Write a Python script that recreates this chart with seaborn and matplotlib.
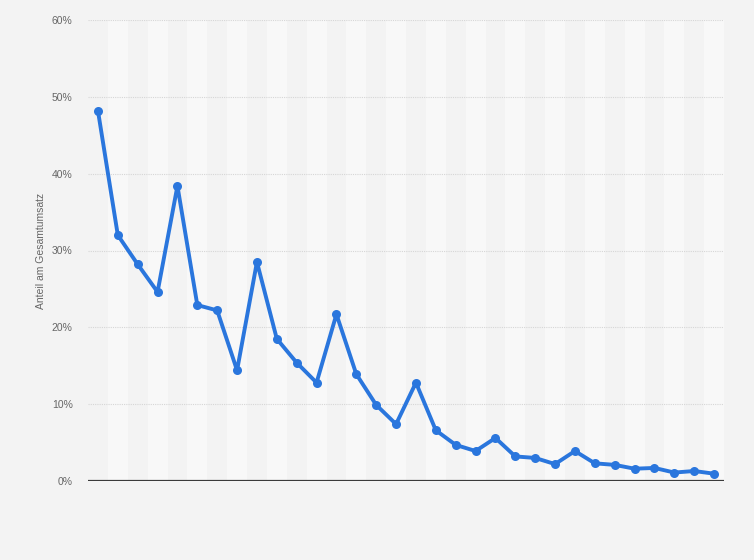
import pandas as pd
import seaborn as sns
import matplotlib.pyplot as plt
import numpy as np

# Anteil am Gesamtumsatz (%), left to right
positions = list(range(1, 33))
share = [48.2, 32.0, 28.2, 24.6, 38.4, 22.9, 22.2, 14.4, 28.5, 18.5,
         15.4, 12.8, 21.7, 13.9, 9.9, 7.4, 12.8, 6.6, 4.7, 3.9,
         5.6, 3.2, 3.0, 2.2, 3.9, 2.3, 2.1, 1.6, 1.7, 1.1,
         1.3, 0.95]
yticks = [0, 10, 20, 30, 40, 50, 60]
ylabel = 'Anteil am Gesamtumsatz'

df = pd.DataFrame({'Pos': np.arange(len(share)), 'Share': share})

sns.set_theme(style='white')
plt.rcParams['font.family'] = ['Liberation Sans', 'DejaVu Sans']

bg = '#f3f3f3'
fig = plt.figure(figsize=(7.54, 5.6), dpi=100, facecolor=bg)
ax = fig.add_axes([88 / 754, 1 - 481 / 560, (724 - 88) / 754, (481 - 20) / 560])
ax.set_facecolor(bg)

# alternating column bands
for i in range(len(share)):
    if i % 2 == 1:
        ax.axvspan(i - 0.5, i + 0.5, color='#f8f8f8', lw=0, zorder=0)

for t in yticks[1:]:
    ax.axhline(t, color='#d6d6d6', lw=0.8, ls=(0, (1, 1)), zorder=1)
ax.axhline(0, color='#3a3a3a', lw=1.6, zorder=3)

sns.lineplot(data=df, x='Pos', y='Share', ax=ax, color='#2a76dd', lw=2.8,
             marker='o', markersize=6.5, markeredgewidth=0, zorder=4)

ax.set_xlim(-0.5, len(share) - 0.5)
ax.set_ylim(0, 60)
ax.set_xticks([])
ax.set_yticks(yticks)
ax.set_yticklabels([f'{t}%' for t in yticks], color='#666666', fontsize=7.5)
ax.tick_params(axis='y', length=0, pad=11)
ax.set_xlabel('')
ax.set_ylabel(ylabel, color='#666666', fontsize=7.5, labelpad=4)
for s in ax.spines.values():
    s.set_visible(False)

plt.savefig('out.png', dpi=100, facecolor=bg)
